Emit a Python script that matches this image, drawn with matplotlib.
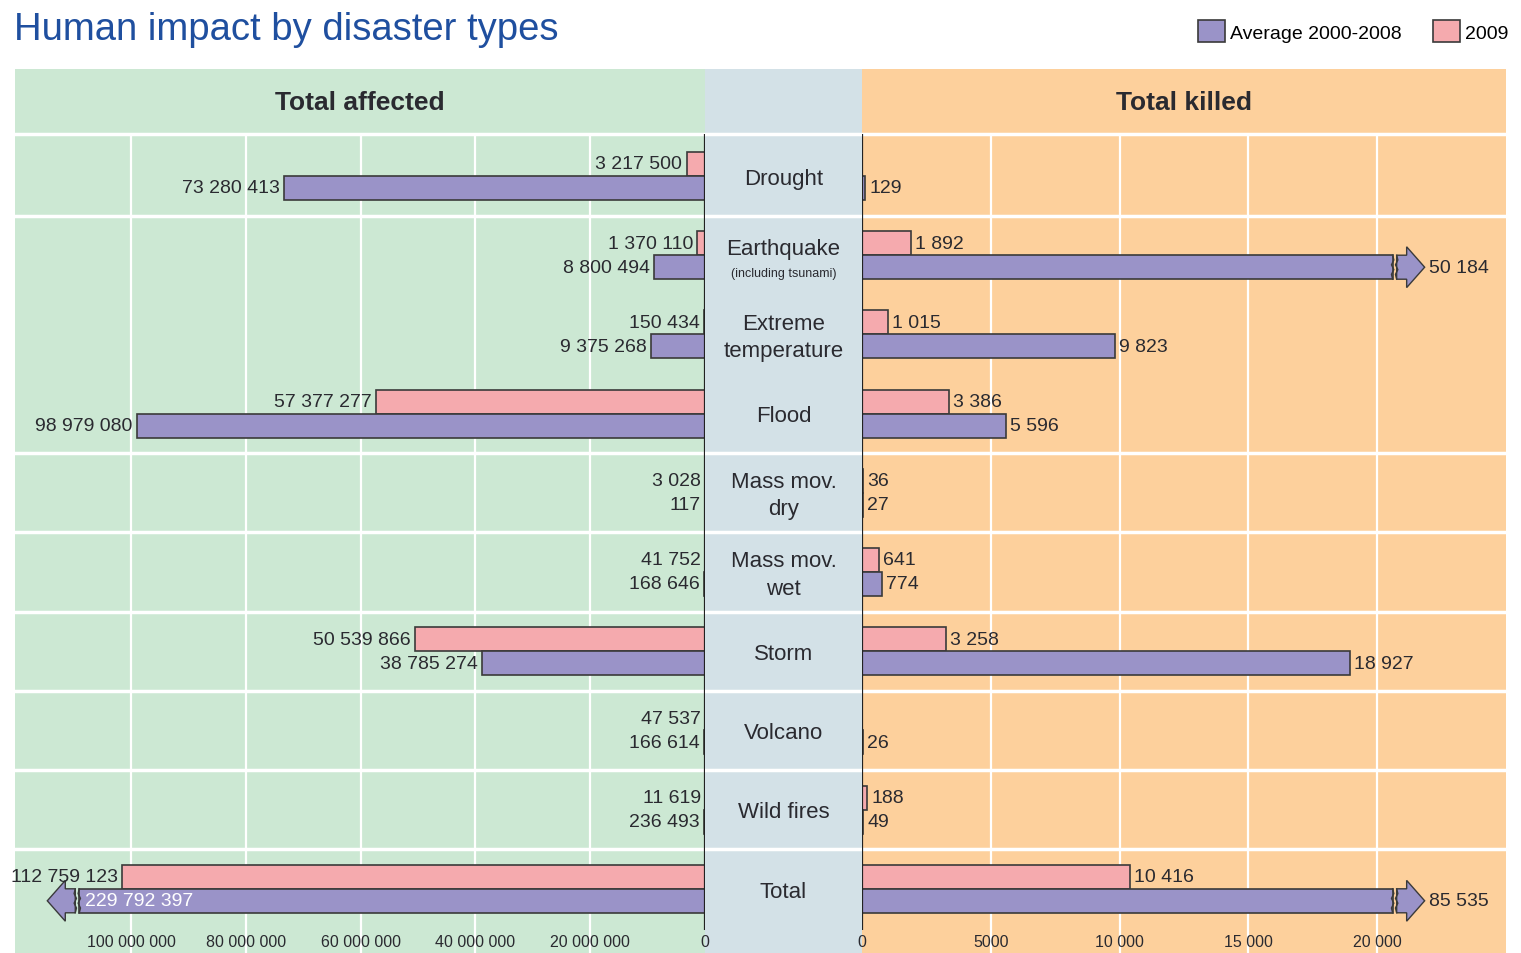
import numpy as np
import matplotlib
matplotlib.use('Agg')
import matplotlib.pyplot as plt
from matplotlib.patches import Patch, Polygon
from matplotlib import font_manager
import matplotlib.transforms as mtransforms

# data
categories = ['Drought', 'Earthquake', 'Extreme\ntemperature', 'Flood', 'Mass mov.\ndry',
              'Mass mov.\nwet', 'Storm', 'Volcano', 'Wild fires', 'Total']
affected_2009 = [3217500, 1370110, 150434, 57377277, 3028, 41752, 50539866, 47537, 11619, 112759123]
affected_avg = [73280413, 8800494, 9375268, 98979080, 117, 168646, 38785274, 166614, 236493, 229792397]
killed_2009 = [None, 1892, 1015, 3386, 36, 641, 3258, None, 188, 10416]
killed_avg = [129, 50184, 9823, 5596, 27, 774, 18927, 26, 49, 85535]

affected_ticks = [100e6, 80e6, 60e6, 40e6, 20e6, 0]
affected_ticklabels = ['100 000 000', '80 000 000', '60 000 000', '40 000 000', '20 000 000', '0']
killed_ticks = [0, 5000, 10000, 15000, 20000]
killed_ticklabels = ['0', '5000', '10 000', '15 000', '20 000']

# the original chart cuts the longest bars short
cap_affected_2009 = 101.5e6
cap_affected_avg = 109e6
cap_killed = 20600

pink = '#f5aaae'
purple = '#9a93c8'
green_bg = '#cce8d3'
mid_bg = '#d3e1e7'
orange_bg = '#fdd09c'
edge = '#3a3a3a'
txt = '#2a2a30'

names = {f.name for f in font_manager.fontManager.ttflist}
narrow = 'Liberation Sans Narrow' if 'Liberation Sans Narrow' in names else 'Liberation Sans'
plt.rcParams['font.family'] = [narrow, 'DejaVu Sans']

W, H = 1521, 954
fig = plt.figure(figsize=(W / 100, H / 100), dpi=100)

top_px = 70
ax_h = (H - top_px) / H
axL = fig.add_axes([15 / W, 0, 690 / W, ax_h])
axM = fig.add_axes([705 / W, 0, 157 / W, ax_h])
axR = fig.add_axes([862 / W, 0, 644 / W, ax_h])
axM.set_zorder(1)
axL.set_zorder(2)
axR.set_zorder(2)

pitch = 79.2
y_top = -(177 - top_px) / pitch
y_bot = (H - 177) / pitch
y_head = -(177 - 135) / pitch
y_axis_end = (931 - 177) / pitch

for ax, bg in [(axL, green_bg), (axM, mid_bg), (axR, orange_bg)]:
    ax.set_facecolor(bg)
    ax.set_ylim(y_bot, y_top)
    ax.set_yticks([])
    for s in ax.spines.values():
        s.set_visible(False)

axL.set_xlim(120.2e6, 0)
axR.set_xlim(0, 25000)
axM.set_xlim(0, 1)
axM.set_xticks([])

axL.set_xticks(affected_ticks, affected_ticklabels)
axR.set_xticks(killed_ticks, killed_ticklabels)
for ax in (axL, axR):
    ax.tick_params(axis='x', length=0, pad=-14, labelsize=11.5, colors=txt)

# grid and row separators
for t in affected_ticks[:-1]:
    axL.vlines(t, y_head, y_bot, color='white', lw=1.6, zorder=1)
for t in killed_ticks[1:]:
    axR.vlines(t, y_head, y_bot, color='white', lw=1.6, zorder=1)
seps = [y_head, 0.5, 3.5, 4.5, 5.5, 6.5, 7.5, 8.5]
for ax in (axL, axM, axR):
    for s in seps:
        ax.axhline(s, color='white', lw=2.5, zorder=1)
axL.vlines(0, y_head, y_axis_end, color='#222222', lw=1.6, zorder=4)
axR.vlines(0, y_head, y_axis_end, color='#222222', lw=1.6, zorder=4)

h = 24 / pitch
y = np.arange(len(categories))
vsize = 14


def px_units(ax):
    x0, x1 = ax.get_xlim()
    return abs(x1 - x0) / (ax.get_position().width * W)


def broken_arrow(ax, yc, start, direction):
    u = px_units(ax) * direction
    gap, shaft, head = 4 * u, 10 * u, 18 * u
    a = start + gap
    pts = [(a, yc - h / 2), (a + shaft, yc - h / 2), (a + shaft, yc - h * 0.85),
           (a + shaft + head, yc), (a + shaft, yc + h * 0.85), (a + shaft, yc + h / 2),
           (a, yc + h / 2)]
    ax.add_patch(Polygon(pts, closed=True, facecolor=purple, edgecolor=edge, lw=1.0, zorder=3))
    wy = np.linspace(yc - h / 2, yc + h / 2, 6)
    wx = np.array([0, 1, -1, 1, -1, 0]) * 1.2 * u
    for x0 in (start, a):
        ax.plot(x0 + wx, wy, color=edge, lw=1.0, zorder=4)
    return a + shaft + head


def fmt(v):
    return f'{v:,}'.replace(',', ' ')


# left: total affected
for i in y:
    v = affected_2009[i]
    shown = min(v, cap_affected_2009)
    axL.barh(i - h / 2, shown, height=h, color=pink, edgecolor=edge, lw=1.2, zorder=3)
    axL.annotate(fmt(v), (shown, i - h / 2), xytext=(-3, 0), textcoords='offset points',
                 ha='right', va='center', fontsize=vsize, color=txt, zorder=5)
    v = affected_avg[i]
    shown = min(v, cap_affected_avg)
    axL.barh(i + h / 2, shown, height=h, color=purple, edgecolor=edge, lw=1.2, zorder=3)
    if v > cap_affected_avg:
        broken_arrow(axL, i + h / 2, shown, 1)
        axL.annotate(fmt(v), (shown, i + h / 2), xytext=(4, 0), textcoords='offset points',
                     ha='left', va='center', fontsize=vsize, color='white', zorder=5)
    else:
        axL.annotate(fmt(v), (shown, i + h / 2), xytext=(-3, 0), textcoords='offset points',
                     ha='right', va='center', fontsize=vsize, color=txt, zorder=5)

# right: total killed
for i in y:
    v = killed_2009[i]
    if v is not None:
        axR.barh(i - h / 2, v, height=h, color=pink, edgecolor=edge, lw=1.2, zorder=3)
        axR.annotate(fmt(v), (v, i - h / 2), xytext=(3, 0), textcoords='offset points',
                     ha='left', va='center', fontsize=vsize, color=txt, zorder=5)
    v = killed_avg[i]
    shown = min(v, cap_killed)
    axR.barh(i + h / 2, shown, height=h, color=purple, edgecolor=edge, lw=1.2, zorder=3)
    end = shown
    if v > cap_killed:
        end = broken_arrow(axR, i + h / 2, shown, 1)
    axR.annotate(fmt(v), (end, i + h / 2), xytext=(3, 0), textcoords='offset points',
                 ha='left', va='center', fontsize=vsize, color=txt, zorder=5)

# middle labels
for i, c in zip(y, categories):
    if c == 'Earthquake':
        axM.text(0.5, i - 0.08, c, ha='center', va='center', fontsize=16, color=txt)
        axM.text(0.5, i + 0.23, '(including tsunami)', ha='center', va='center', fontsize=9, color=txt)
    else:
        axM.text(0.5, i + 0.03, c, ha='center', va='center', fontsize=16, color=txt, linespacing=1.4)

axL.text(0.5, -0.934, 'Total affected', transform=mtransforms.blended_transform_factory(axL.transAxes, axL.transData),
         ha='center', va='center', fontsize=19, fontweight='bold', color=txt)
axR.text(0.5, -0.934, 'Total killed', transform=mtransforms.blended_transform_factory(axR.transAxes, axR.transData),
         ha='center', va='center', fontsize=19, fontweight='bold', color=txt)

fig.text(14 / W, 1 - 30 / H, 'Human impact by disaster types', ha='left', va='center',
         fontsize=27.5, color='#1f4f9f')

handles = [Patch(facecolor=purple, edgecolor=edge, lw=1.2), Patch(facecolor=pink, edgecolor=edge, lw=1.2)]
fig.legend(handles, ['Average 2000-2008', '2009'], loc='upper right', bbox_to_anchor=(1508 / W, 1 - 21 / H),
           ncol=2, frameon=False, fontsize=14, handlelength=1.4, handleheight=1.4,
           columnspacing=1.6, handletextpad=0.25, borderaxespad=0, borderpad=0)

fig.savefig('out.png', dpi=100)
